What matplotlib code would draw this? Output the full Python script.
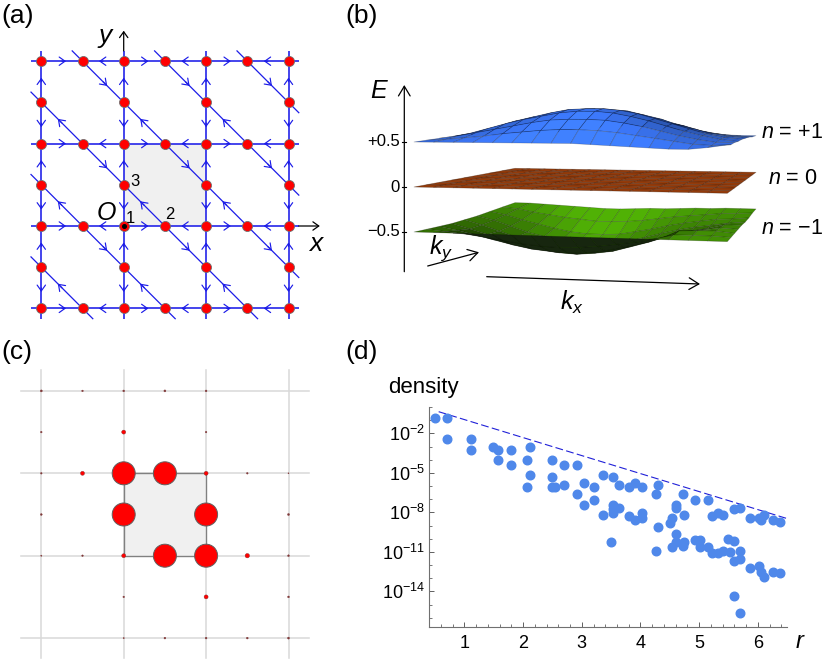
import numpy as np
import matplotlib
matplotlib.use('Agg')
import matplotlib.pyplot as plt
from matplotlib.collections import PolyCollection
from matplotlib.patches import FancyArrowPatch, Rectangle
from matplotlib.ticker import FixedLocator, NullFormatter

plt.rcParams['font.family'] = ['Liberation Sans', 'DejaVu Sans']
plt.rcParams['mathtext.fontset'] = 'custom'
plt.rcParams['mathtext.rm'] = 'Liberation Sans'
plt.rcParams['mathtext.it'] = 'Liberation Sans:italic'

W, H = 822, 660

# panel (a), (c) lattice
xs = [-2, -1, 0, 1, 2, 3, 4]
ys = [-2, -1, 0, 1, 2, 3, 4]
grid_lines = [-2, 0, 2, 4]
diagonals = [-3, -1, 1, 3, 5, 7]
site_labels = ['1', '2', '3']

# panel (c): site x, site y, dot radius
c_x = [-2, -1, 0, 1, 2,  -2, 0, 2,  -2, -1, 0, 1, 2, 3, 4,  -2, 0, 2, 4,
       -2, -1, 0, 1, 2, 3, 4,  0, 2, 4,  0, 1, 2, 3, 4]
c_y = [4, 4, 4, 4, 4,  3, 3, 3,  2, 2, 2, 2, 2, 2, 2,  1, 1, 1, 1,
       0, 0, 0, 0, 0, 0, 0,  -1, -1, -1,  -2, -2, -2, -2, -2]
c_r = [1.0, 0.8, 0.9, 1.0, 0.9,  0.8, 2.0, 0.8,
       0.8, 2.0, 11.5, 11.5, 2.0, 0.8, 0.5,
       0.9, 11.5, 11.5, 1.0,
       0.6, 0.8, 2.0, 11.5, 11.5, 2.2, 0.9,
       0.8, 2.0, 0.9,
       0.6, 0.9, 0.9, 0.9, 1.0]

# panel (b): heights above the flat band, hundredths of E, rows front to back
blue_dE = np.array([
    [0, 0, 0, 0, 0, 0, 0, 0, 0, -1, -2, -3, -4, -5, -5, -3, 0],
    [1, 2, 4, 6, 9, 11, 13, 14, 14, 13, 11, 8, 5, 2, -1, -2, -1],
    [2, 5, 9, 13, 17, 21, 24, 25, 25, 24, 21, 17, 12, 7, 3, 0, 0],
    [3, 7, 13, 19, 24, 28, 32, 34, 34, 32, 28, 23, 17, 11, 6, 2, 0],
    [3, 8, 15, 22, 27, 32, 36, 37, 37, 35, 31, 25, 19, 13, 7, 3, 1],
    [3, 8, 15, 22, 28, 33, 36, 37, 36, 34, 29, 24, 17, 12, 6, 3, 1],
    [2, 6, 13, 19, 25, 29, 32, 33, 32, 29, 25, 20, 15, 9, 5, 2, 1],
    [1, 4, 8, 13, 17, 20, 22, 23, 22, 20, 17, 13, 9, 6, 3, 1, 0],
    [0, 1, 2, 4, 7, 9, 11, 12, 12, 11, 9, 7, 5, 3, 1, 0, 0]]) / 100
orange_dE = np.zeros((9, 17))
green_dE = np.array([
    [0, 0, 0, 0, 0, 0, 0, 0, 0, 0, 0, 0, 0, 0, 0, 0, 0],
    [-1, -3, -5, -8, -11, -14, -16, -17, -16, -14, -11, -8, -4, 1, 1, 1, 0],
    [-2, -6, -11, -16, -21, -25, -27, -28, -27, -24, -19, -14, -8, 1, 2, 2, 0],
    [-3, -9, -15, -21, -27, -31, -34, -35, -33, -30, -24, -18, -11, -4, -2, 1, 0],
    [-3, -9, -16, -23, -29, -33, -36, -37, -35, -31, -26, -20, -14, -9, -5, 0, 0],
    [-3, -8, -15, -22, -27, -32, -35, -35, -33, -29, -24, -18, -13, -9, -6, -3, -1],
    [-2, -6, -12, -17, -22, -26, -28, -28, -27, -23, -19, -14, -10, -7, -4, -3, -1],
    [-1, -3, -7, -10, -13, -15, -17, -17, -16, -14, -11, -8, -6, -4, -2, -1, 0],
    [0, 0, -1, -2, -3, -4, -5, -5, -4, -3, -3, -2, -1, -1, 0, 0, 0]]) / 100
band_E = [0.5, 0.0, -0.5]
band_labels = ['$\\mathit{n}$ = +1', '$\\mathit{n}$ = 0', '$\\mathit{n}$ = \u22121']
E_ticks = ['+0.5', '0', '\u22120.5']

# panel (d)
r_vals = [0.50, 0.705, 0.705, 1.12, 1.12, 1.494, 1.58, 1.58, 1.80, 1.80,
          2.06, 2.06, 2.12, 2.12, 2.50, 2.50, 2.50, 2.55, 2.69, 2.69,
          2.915, 2.915, 3.045, 3.045, 3.20, 3.20, 3.36, 3.36, 3.50, 3.54,
          3.54, 3.54, 3.54, 3.64, 3.64, 3.81, 3.81, 3.90, 3.90, 4.03,
          4.03, 4.03, 4.27, 4.27, 4.30, 4.30, 4.505, 4.53, 4.53, 4.61,
          4.61, 4.61, 4.61, 4.72, 4.72, 4.74, 4.74, 4.93, 4.93, 5.02,
          5.02, 5.15, 5.15, 5.22, 5.22, 5.32, 5.32, 5.41, 5.41, 5.49,
          5.53, 5.59, 5.59, 5.59, 5.59, 5.70, 5.70, 5.70, 5.70, 5.86,
          5.86, 6.02, 6.02, 6.05, 6.05, 6.11, 6.11, 6.26, 6.26, 6.37, 6.37]
log_density = [-0.81, -0.81, -2.41, -2.41, -3.24, -3.06, -3.24, -4.00, -3.24, -4.38,
               -4.00, -6.08, -3.06, -5.19, -4.00, -5.29, -6.08, -6.08, -4.38, -5.90,
               -4.38, -6.61, -5.80, -7.42, -6.08, -7.06, -5.19, -8.20, -10.23, -5.29,
               -7.42, -7.72, -8.03, -5.90, -7.70, -6.08, -8.25, -5.77, -8.61, -6.08,
               -8.05, -8.46, -6.61, -10.91, -5.90, -9.09, -8.78, -8.46, -10.61, -7.42,
               -7.70, -9.62, -10.23, -6.61, -10.53, -8.20, -10.23, -7.09, -10.13, -10.13,
               -10.61, -7.09, -10.61, -8.25, -11.09, -8.03, -11.09, -8.20, -10.91, -10.03,
               -10.99, -7.75, -10.20, -11.67, -14.38, -7.70, -10.91, -11.52, -15.62, -8.46,
               -12.25, -8.46, -12.08, -8.61, -12.53, -8.20, -12.89, -8.61, -12.51, -8.76, -12.61]
bound_r = [0.5625, 6.49]
bound_log = [-0.354, -8.46]
r_ticks = [1, 2, 3, 4, 5, 6]
y_exps = [-2, -5, -8, -11, -14]

BLUE = '#1c1ce8'
RED = '#ff0000'
DOT_BLUE = '#4f88ea'


def lattice_axes(x0, y0, x1, y1, ox, oy, unit):
    ax = fig.add_axes([x0 / W, 1 - y1 / H, (x1 - x0) / W, (y1 - y0) / H])
    ax.set_xlim((x0 - ox) / unit, (x1 - ox) / unit)
    ax.set_ylim((oy - y1) / unit, (oy - y0) / unit)
    ax.axis('off')
    ax.patch.set_alpha(0)
    return ax


def radius_pts(px):
    # marker size for a dot radius in pixels
    return (2 * px * 0.72) ** 2


def chevron(ax, a, b, color=BLUE, lw=0.85):
    ax.add_patch(FancyArrowPatch(a, b, arrowstyle='->,head_length=0.42,head_width=0.3',
                                 mutation_scale=10, color=color, lw=lw,
                                 shrinkA=0, shrinkB=0, zorder=3))


fig = plt.figure(figsize=(W / 100, H / 100), dpi=100)

# (a)
ax = lattice_axes(0, 0, 330, 330, 123.7, 226, 41.2)
ax.add_patch(Rectangle((0, 0), 2, 2, fc='#f0f0f0', ec='none', zorder=0))
lo, hi = -2.25, 4.25
for g in grid_lines:
    ax.plot([lo, hi], [g, g], color=BLUE, lw=1.15, zorder=1, solid_capstyle='butt')
    ax.plot([g, g], [lo, hi], color=BLUE, lw=1.15, zorder=1, solid_capstyle='butt')
for d in diagonals:
    start = max(lo, d - hi)
    end = min(hi, d - lo)
    ax.plot([start, end], [d - start, d - end], color=BLUE, lw=0.9, zorder=1)

# chevrons sit 0.6 of the way along each bond, the stem is only a stub
for g in grid_lines:
    for x in [-1, 1, 3]:
        for s in [-1, 1]:
            chevron(ax, (x + 0.5 * s, g), (x + 0.4 * s, g))
    for y in [-1, 1, 3]:
        for s in [-1, 1]:
            if -2 <= y + s <= 4:
                chevron(ax, (g, y + 0.5 * s), (g, y + 0.6 * s))
for x in [-1, 1, 3]:
    for y in [-2, 0, 2, 4]:
        for s in [-1, 1]:
            if -2 <= x + s <= 4 and -2 <= y - s <= 4:
                chevron(ax, (x + 0.5 * s, y - 0.5 * s), (x + 0.6 * s, y - 0.6 * s))

chevron(ax, (hi, 0), (4.76, 0), color='black', lw=0.9)
chevron(ax, (0, hi), (0, 4.74), color='black', lw=0.9)

px, py = [], []
for x in xs:
    for y in ys:
        if x % 2 == 0 or y % 2 == 0:
            px.append(x)
            py.append(y)
ax.scatter(px, py, s=radius_pts(5), color=RED, edgecolors='#707070', linewidths=0.6, zorder=4)
ax.scatter([0], [0], s=radius_pts(1.8), color='black', zorder=5)
ax.text(0.17, 0.19, site_labels[0], fontsize=12, ha='center', va='center', zorder=6)
ax.text(1.12, 0.29, site_labels[1], fontsize=12, ha='center', va='center', zorder=6)
ax.text(0.27, 1.09, site_labels[2], fontsize=12, ha='center', va='center', zorder=6)
ax.text(-0.43, 0.32, 'O', fontsize=18, style='italic', ha='center', va='center', zorder=6)
ax.text(4.67, -0.44, 'x', fontsize=19, style='italic', ha='center', va='center')
ax.text(-0.45, 4.62, 'y', fontsize=19, style='italic', ha='center', va='center')

# (c)
ax = lattice_axes(0, 335, 330, 660, 123.7, 555.7, 41.2)
ax.add_patch(Rectangle((0, 0), 2, 2, fc='#f0f0f0', ec='#808080', lw=1.0, zorder=1))
for g in grid_lines:
    ax.plot([-2.5, 4.5], [g, g], color='#d8d8d8', lw=1.1, zorder=0)
    ax.plot([g, g], [-2.48, 4.5], color='#d8d8d8', lw=1.1, zorder=0)
ax.scatter(c_x, c_y, s=[radius_pts(r) for r in c_r],
           color=[RED if r > 1.5 else '#7a3a3a' for r in c_r],
           edgecolors=['#606060' if r > 3 else '#803030' for r in c_r],
           linewidths=[0.7 if r > 3 else 0.3 for r in c_r], zorder=3)

# (b) surfaces, corners of each sheet in pixels: left, front, back, right
ax = fig.add_axes([340 / W, 1 - 330 / H, 482 / W, 270 / H])
ax.set_xlim(340, 822)
ax.set_ylim(330, 60)
ax.axis('off')
ax.patch.set_alpha(0)

corner_x = np.array([414.0, 727.3, 515.0, 756.0])
corner_y = np.array([187.0, 193.3, 168.3, 172.3])
corner_s = np.array([90.0, 96.7, 68.7, 73.3])
face_cols = {0.5: (0.24, 0.48, 1.00), 0.0: (0.68, 0.27, 0.05), -0.5: (0.30, 0.66, 0.02)}
under_cols = {0.5: (0.02, 0.07, 0.25), 0.0: (0.2, 0.1, 0.05), -0.5: (0.09, 0.15, 0.06)}


def bilinear(c, u, v):
    return c[0] * (1 - u) * (1 - v) + c[1] * u * (1 - v) + c[2] * (1 - u) * v + c[3] * u * v


for E, dE in zip(band_E, [blue_dE, orange_dE, green_dE]):
    nv, nu = dE.shape
    u, v = np.meshgrid(np.linspace(0, 1, nu), np.linspace(0, 1, nv))
    sx = bilinear(corner_x, u, v)
    base = bilinear(corner_y, u, v)
    sy = base - (E + dE) * bilinear(corner_s, u, v)
    dv, du = np.gradient(dE, 1 / (nv - 1), 1 / (nu - 1))
    polys, cols, depth = [], [], []
    for j in range(nv - 1):
        for i in range(nu - 1):
            q = np.array([[sx[j, i], sy[j, i]], [sx[j, i + 1], sy[j, i + 1]],
                          [sx[j + 1, i + 1], sy[j + 1, i + 1]], [sx[j + 1, i], sy[j + 1, i]]])
            area = 0.5 * np.sum(q[:, 0] * np.roll(q[:, 1], -1) - np.roll(q[:, 0], -1) * q[:, 1])
            g = 0.25 * (du[j, i] + du[j, i + 1] + du[j + 1, i] + du[j + 1, i + 1])
            h = 0.25 * (dv[j, i] + dv[j, i + 1] + dv[j + 1, i] + dv[j + 1, i + 1])
            if area < 0:
                # slopes turned away from the viewer go dark
                shade = 0.85 - 0.2 * abs(g) + (0.3 * h if h > 0 else 1.0 * h)
                col = np.array(face_cols[E]) * np.clip(shade, 0.25, 1.05)
            else:
                col = np.array(under_cols[E])
            polys.append(q)
            cols.append(np.clip(col, 0, 1))
            depth.append(base[j:j + 2, i:i + 2].mean())
    order = np.argsort(depth)
    edge = (0, 0, 0, 0.25) if E != 0 else (0.15, 0.05, 0, 0.35)
    ax.add_collection(PolyCollection([polys[k] for k in order], facecolors=[cols[k] for k in order],
                                     edgecolors=edge, linewidths=0.5))

ax.add_patch(FancyArrowPatch((404.3, 271.7), (404.3, 85), arrowstyle='->,head_length=0.7,head_width=0.42',
                             mutation_scale=10, color='black', lw=0.9, shrinkA=0, shrinkB=0))
ax.add_patch(FancyArrowPatch((427.7, 266), (479, 252.3), arrowstyle='->,head_length=0.7,head_width=0.42',
                             mutation_scale=10, color='black', lw=0.9, shrinkA=0, shrinkB=0))
ax.add_patch(FancyArrowPatch((486.7, 276.7), (700, 284), arrowstyle='->,head_length=0.7,head_width=0.42',
                             mutation_scale=10, color='black', lw=0.9, shrinkA=0, shrinkB=0))
for E, tick, lab, ty in zip(band_E, E_ticks, band_labels, [142, 187, 232]):
    ax.plot([402, 405.5], [ty, ty], color='black', lw=0.8)
    ax.text(400, ty, tick, fontsize=12, ha='right', va='center')
ax.text(760.5, 132.5, band_labels[0], fontsize=15.5, ha='left', va='center')
ax.text(768, 179, band_labels[1], fontsize=15.5, ha='left', va='center')
ax.text(760.5, 229, band_labels[2], fontsize=15.5, ha='left', va='center')
ax.text(379, 90.5, 'E', fontsize=18, style='italic', ha='center', va='center')
ax.text(441, 248, '$\\mathit{k_y}$', fontsize=18, ha='center', va='center')
ax.text(571.5, 302, '$\\mathit{k_x}$', fontsize=18, ha='center', va='center')

# (d)
ax = fig.add_axes([429.3 / W, 1 - 626.7 / H, 357.4 / W, 220 / H])
ax.set_yscale('log')
ax.set_xlim(0.403, 6.49)
ax.set_ylim(10 ** -16.68, 10 ** 0.025)
ax.scatter(r_vals, 10 ** np.array(log_density), s=radius_pts(4.3), color=DOT_BLUE, clip_on=False, zorder=3)
ax.plot(bound_r, 10 ** np.array(bound_log), color='#2020d8', lw=0.8, dashes=(7, 3), zorder=2)
ax.spines['top'].set_visible(False)
ax.spines['right'].set_visible(False)
for s in ['left', 'bottom']:
    ax.spines[s].set_color('#707070')
    ax.spines[s].set_linewidth(0.8)
ax.set_xticks(r_ticks)
ax.set_xticks(np.arange(0.6, 6.5, 0.2), minor=True)
ax.set_yticks([10.0 ** e for e in y_exps])
ax.set_yticklabels(['$\\mathregular{10^{%s}}$' % ('\u2212' + str(-e)) for e in y_exps])
ax.yaxis.set_minor_locator(FixedLocator([10.0 ** e for e in range(-16, 1)]))
ax.yaxis.set_minor_formatter(NullFormatter())
ax.tick_params(which='major', direction='in', length=3.5, width=0.7, color='#606060', labelsize=13)
ax.tick_params(which='minor', direction='in', length=2, width=0.6, color='#606060')
ax.tick_params(axis='x', which='major', pad=6)
ax.tick_params(axis='y', which='major', pad=3)
ax.patch.set_alpha(0)
fig.text(388 / W, 1 - 388 / H, 'density', fontsize=16, ha='left', va='center')
fig.text(799.5 / W, 1 - 641.5 / H, 'r', fontsize=17, style='italic', ha='center', va='center')

# panel letters
for lab, x, y in [('(a)', 1, 16), ('(b)', 345, 16), ('(c)', 1, 352), ('(d)', 345, 352)]:
    fig.text(x / W, 1 - y / H, lab, fontsize=19, ha='left', va='center')

fig.savefig('out.png', dpi=100)
